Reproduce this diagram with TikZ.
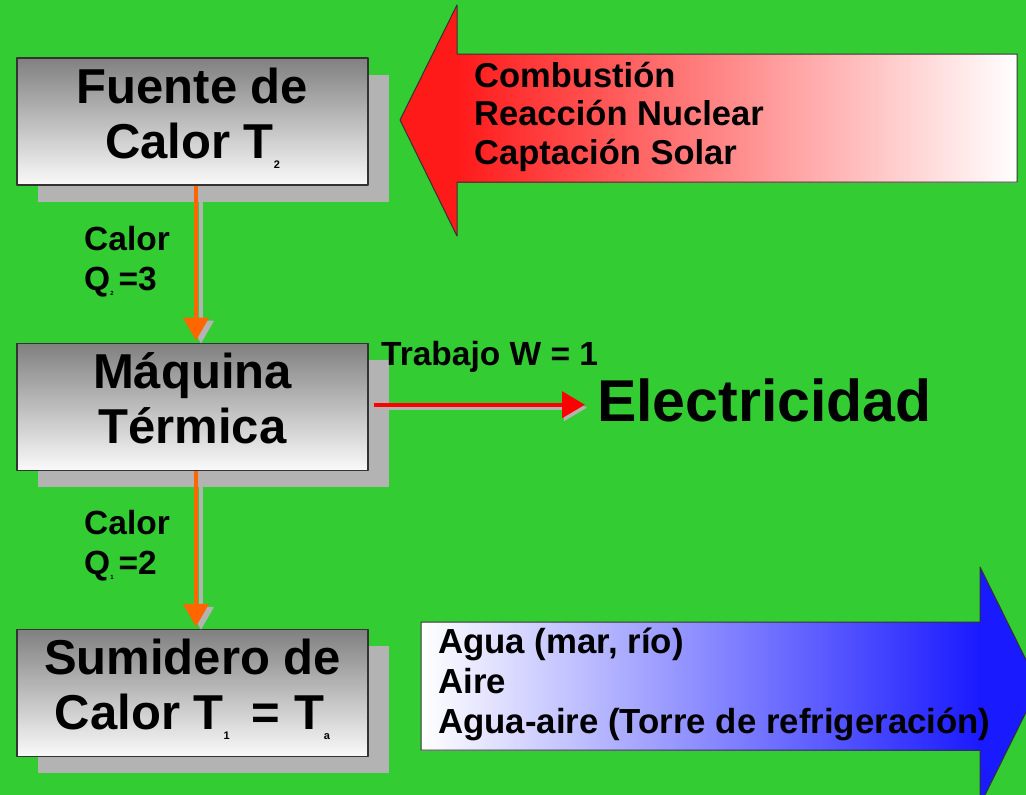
\documentclass[tikz,border=0pt]{standalone}
\usepackage{fontspec}
\setmainfont{Liberation Sans}
\usepackage{tikz}
\usetikzlibrary{arrows.meta,positioning,shadows}
\definecolor{bggreen}{HTML}{33CC33}
\definecolor{boxtop}{HTML}{808080}
\definecolor{boxbottom}{HTML}{FAFAFA}
\definecolor{boxline}{HTML}{333333}
\definecolor{shadowgray}{HTML}{B3B3B3}
\definecolor{heatorange}{HTML}{FF6600}
\definecolor{workred}{HTML}{FF0000}
\definecolor{srcred}{HTML}{FF1A1A}
\definecolor{sinkblue}{HTML}{1A1AFF}
\newcommand{\boxsub}[1]{\raisebox{-10pt}{\fontsize{11}{11}\selectfont #1}}
\newcommand{\qsub}[1]{\raisebox{-5pt}{\fontsize{6}{6}\selectfont #1}}
\tikzset{
    every picture/.style={line cap=round,line join=round},
    heatbox/.style={draw=boxline,top color=boxtop,bottom color=boxbottom,
      line width=1.2pt,minimum width=351pt,minimum height=127pt,inner sep=0pt,
      text height=90pt,text depth=17pt,
      font=\fontsize{49}{55}\selectfont\bfseries,align=center,
      drop shadow={shadow xshift=21pt,shadow yshift=-17pt,fill=shadowgray,opacity=1}},
    heatflow/.style={-{Triangle[length=23pt,width=25pt]},draw=heatorange,
      line width=4.5pt,line cap=butt,shorten >=2pt},
    heatshadow/.style={heatflow,draw=shadowgray,
      transform canvas={shift={(5pt,-3pt)}}},
    workflow/.style={-{Triangle[length=23pt,width=26pt]},draw=workred,
      line width=4pt,line cap=butt,shorten <=5pt,shorten >=12pt},
    workshadow/.style={workflow,draw=shadowgray,
      transform canvas={shift={(2pt,-3pt)}}},
    bigoutline/.style={draw=boxline,line width=1pt},
    flowlabel/.style={font=\fontsize{33.5}{40}\selectfont\bfseries,align=left,
      inner sep=0pt,anchor=base west},
    listlabel/.style={font=\fontsize{34.5}{38.5}\selectfont\bfseries,align=left,
      inner sep=0pt,anchor=base west}
}
\begin{document}
\begin{tikzpicture}[x=1pt,y=-1pt]
  \fill[bggreen] (0,0) rectangle (1026,795);
  \clip (0,0) rectangle (1026,795);
  % heat source arrow
  \fill[left color=srcred,right color=white] (457,54) rectangle (1017,182);
  \fill[srcred] (457,5) -- (400,120) -- (457,236) -- cycle;
  \draw[bigoutline] (1017,54) -- (457,54) -- (457,5) -- (400,120)
    -- (457,236) -- (457,182) -- (1017,182) -- cycle;
  \node[listlabel] (fuentes) at (474,164) {Combustión\\Reacción Nuclear\\Captación Solar};
  % heat sink arrow
  \fill[left color=white,right color=sinkblue] (421,622) rectangle (980,750);
  \fill[sinkblue] (980,567) -- (1039,686) -- (980,805) -- cycle;
  \draw[bigoutline] (421,622) -- (980,622) -- (980,567) -- (1039,686)
    -- (980,805) -- (980,750) -- (421,750) -- cycle;
  \node[listlabel,font=\fontsize{34.8}{40}\selectfont\bfseries] (medios) at (438,733)
    {Agua (mar, río)\\Aire\\Agua-aire (Torre de refrigeración)};
  % boxes
  \node[heatbox] (fuente) at (192.5,121.5) {Fuente de\\Calor T\boxsub{2}};
  \node[heatbox,below=157pt of fuente] (maquina) {Máquina\\Térmica};
  \node[heatbox,below=158pt of maquina] (sumidero)
    {Sumidero de\\Calor T\boxsub{1}\hspace{22pt}= T\boxsub{a}};
  % heat flows
  \draw[heatshadow] ([xshift=3.5pt]fuente.south) -- ([xshift=3.5pt]maquina.north);
  \draw[heatflow] ([xshift=3.5pt]fuente.south) -- ([xshift=3.5pt]maquina.north);
  \draw[heatshadow] ([xshift=3.5pt]maquina.south) -- ([xshift=3.5pt]sumidero.north);
  \draw[heatflow] ([xshift=3.5pt]maquina.south) -- ([xshift=3.5pt]sumidero.north);
  \node[flowlabel] (q2) at (84,290) {Calor\\Q\qsub{2}\hspace{5pt}=3};
  \node[flowlabel] (q1) at (84,574) {Calor\\Q\qsub{1}\hspace{5pt}=2};
  % work output
  \node[flowlabel] (trabajo) at (381,365) {Trabajo W = 1};
  \node[inner sep=0pt,anchor=base west,font=\fontsize{59}{59}\selectfont\bfseries]
    (elec) at (597,421) {Electricidad};
  \coordinate (workstart) at ([yshift=2pt]maquina.east);
  \draw[workshadow] (workstart) -- (workstart -| elec.west);
  \draw[workflow] (workstart) -- (workstart -| elec.west);
\end{tikzpicture}
\end{document}
